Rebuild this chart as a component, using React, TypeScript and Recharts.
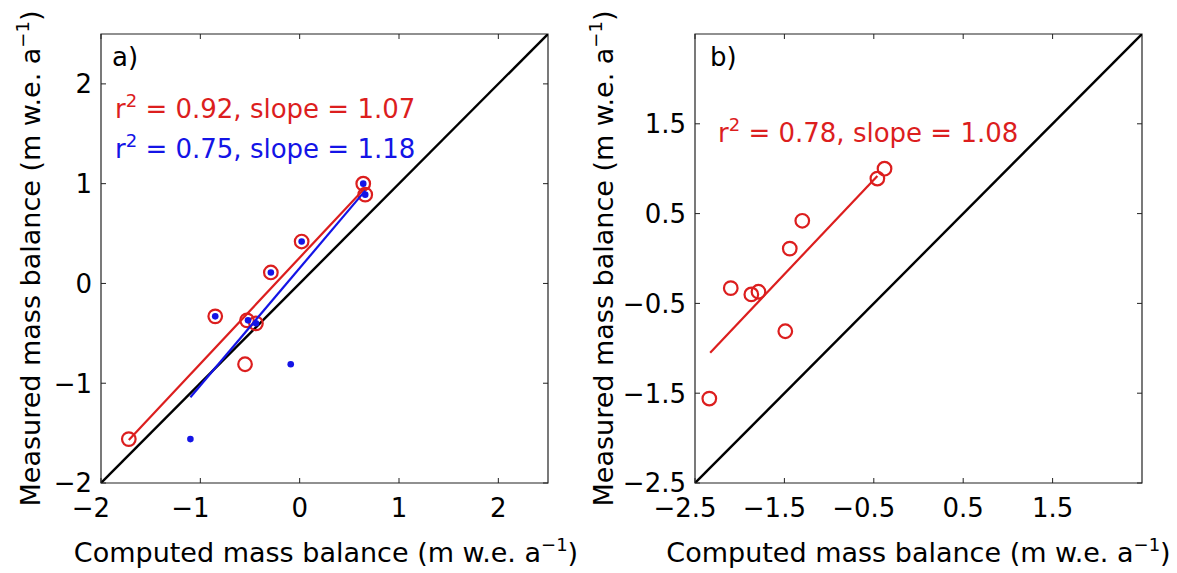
import { ScatterChart, Scatter, XAxis, YAxis, ReferenceArea } from "recharts";

const RED = "#dc1e1e";
const BLUE = "#1414e6";
const FONT = "DejaVu Sans";

// measured mass balance, same glaciers/years in both panels
const measured = [1.0, 0.89, 0.42, 0.11, -0.33, -0.37, -0.4, -0.81, -1.56];

// panel a) computed values, two model runs
const aComputedRed = [0.64, 0.66, 0.02, -0.29, -0.85, -0.53, -0.44, -0.55, -1.72];
const aComputedBlue = [0.64, 0.66, 0.02, -0.29, -0.85, -0.52, -0.44, -0.09, -1.1];
const aFitRedX = [-1.72, 0.66];
const aFitRedY = [-1.57, 0.96];
const aFitBlueX = [-1.1, 0.66];
const aFitBlueY = [-1.14, 0.93];
const aDomain = [-2, 2.5];
const aTicks = [-2, -1, 0, 1, 2];

// panel b) computed values
const bComputed = [-0.38, -0.46, -1.3, -1.44, -2.1, -1.79, -1.87, -1.49, -2.34];
const bFitX = [-2.33, -0.46];
const bFitY = [-1.05, 0.92];
const bDomain = [-2.5, 2.5];
const bTicks = [-2.5, -1.5, -0.5, 0.5, 1.5];

const pts = (xs: number[], ys: number[]) => xs.map((x, i) => ({ x, y: ys[i] }));

const PLOT = 447; // plot box is (almost) square
const PLOT_H = 449;

const fmt = (v: number) => String(v).replace("-", "\u2212");

// bottom ticks: label + inward tick marks on bottom and top of the box
function XTick({ x, y, payload }: any) {
  const v = payload.value;
  return (
    <g>
      <line x1={x} x2={x} y1={y} y2={y - 5} stroke="#222" />
      <line x1={x} x2={x} y1={y - PLOT_H} y2={y - PLOT_H + 5} stroke="#222" />
      <text
        x={x - (v < 0 ? 10 : 0)}
        y={y + 34}
        textAnchor="middle"
        fontSize={26}
        fontFamily={FONT}
        fill="#000"
      >
        {fmt(v)}
      </text>
    </g>
  );
}

// left ticks: label + inward tick marks on left and right of the box
function YTick({ x, y, payload }: any) {
  return (
    <g>
      <line x1={x} x2={x + 5} y1={y} y2={y} stroke="#222" />
      <line x1={x + PLOT} x2={x + PLOT - 5} y1={y} y2={y} stroke="#222" />
      <text x={x - 9} y={y} dy="0.36em" textAnchor="end" fontSize={26} fontFamily={FONT} fill="#000">
        {fmt(payload.value)}
      </text>
    </g>
  );
}

const Circle = (p: any) => <circle cx={p.cx} cy={p.cy} r={6.8} fill="none" stroke={RED} strokeWidth={2.2} />;
const Dot = (p: any) => <circle cx={p.cx} cy={p.cy} r={3.3} fill={BLUE} />;
const NoShape = () => null;

function Panel({ domain, ticks, children, width, left, plotLeft }: any) {
  // axes get 1px of room (a zero-sized axis is not drawn at all)
  return (
    <div style={{ position: "absolute", left, top: 0 }}>
      <ScatterChart
        width={width}
        height={573}
        margin={{ top: 34, left: plotLeft - 1, right: width - plotLeft - PLOT, bottom: 89 }}
      >
        <XAxis
          type="number"
          dataKey="x"
          domain={domain}
          ticks={ticks}
          interval={0}
          allowDataOverflow
          height={1}
          axisLine={false}
          tickLine={false}
          tickSize={0}
          tickMargin={0}
          tick={<XTick />}
        />
        <YAxis
          type="number"
          dataKey="y"
          domain={domain}
          ticks={ticks}
          interval={0}
          allowDataOverflow
          width={1}
          axisLine={false}
          tickLine={false}
          tickSize={0}
          tickMargin={0}
          tick={<YTick />}
        />
        <ReferenceArea
          x1={domain[0]}
          x2={domain[1]}
          y1={domain[0]}
          y2={domain[1]}
          fill="none"
          stroke="#222"
          strokeWidth={1.2}
        />
        {children}
      </ScatterChart>
    </div>
  );
}

function Sup({ base, sup, rest }: { base: string; sup: string; rest: string }) {
  return (
    <>
      {base}
      <tspan dy={-11} fontSize={18}>
        {sup}
      </tspan>
      <tspan dy={11}>{rest}</tspan>
    </>
  );
}

export default function App() {
  return (
    <div style={{ position: "absolute", left: 0, top: 0, width: 1177, height: 573, background: "#fff" }}>
      <Panel domain={aDomain} ticks={aTicks} width={590} left={0} plotLeft={101}>
        <Scatter
          data={pts(aDomain, aDomain)}
          line={{ stroke: "#000", strokeWidth: 2.4 }}
          shape={NoShape}
          isAnimationActive={false}
        />
        <Scatter
          data={pts(aFitRedX, aFitRedY)}
          line={{ stroke: RED, strokeWidth: 2.2 }}
          shape={NoShape}
          isAnimationActive={false}
        />
        <Scatter data={pts(aComputedRed, measured)} shape={Circle} isAnimationActive={false} />
        <Scatter
          data={pts(aFitBlueX, aFitBlueY)}
          line={{ stroke: BLUE, strokeWidth: 2.2 }}
          shape={NoShape}
          isAnimationActive={false}
        />
        <Scatter data={pts(aComputedBlue, measured)} shape={Dot} isAnimationActive={false} />
      </Panel>

      <Panel domain={bDomain} ticks={bTicks} width={587} left={590} plotLeft={105}>
        <Scatter
          data={pts(bDomain, bDomain)}
          line={{ stroke: "#000", strokeWidth: 2.4 }}
          shape={NoShape}
          isAnimationActive={false}
        />
        <Scatter
          data={pts(bFitX, bFitY)}
          line={{ stroke: RED, strokeWidth: 2.2 }}
          shape={NoShape}
          isAnimationActive={false}
        />
        <Scatter data={pts(bComputed, measured)} shape={Circle} isAnimationActive={false} />
      </Panel>

      <svg
        width={1177}
        height={573}
        style={{ position: "absolute", left: 0, top: 0, pointerEvents: "none" }}
        fontFamily={FONT}
      >
        <text x={112} y={66} fontSize={26}>a)</text>
        <text x={115} y={118} fontSize={26} fill={RED}>
          <Sup base="r" sup="2" rest=" = 0.92, slope = 1.07" />
        </text>
        <text x={115} y={158} fontSize={26} fill={BLUE}>
          <Sup base="r" sup="2" rest=" = 0.75, slope = 1.18" />
        </text>
        <text x={326} y={562} fontSize={27} textAnchor="middle">
          <Sup base="Computed mass balance (m w.e. a" sup={"\u22121"} rest=")" />
        </text>
        <text transform="translate(40,258.5) rotate(-90)" fontSize={27} textAnchor="middle">
          <Sup base="Measured mass balance (m w.e. a" sup={"\u22121"} rest=")" />
        </text>

        <text x={710} y={66} fontSize={26}>b)</text>
        <text x={718} y={142} fontSize={26} fill={RED}>
          <Sup base="r" sup="2" rest=" = 0.78, slope = 1.08" />
        </text>
        <text x={918.5} y={562} fontSize={27} textAnchor="middle">
          <Sup base="Computed mass balance (m w.e. a" sup={"\u22121"} rest=")" />
        </text>
        <text transform="translate(613,258.5) rotate(-90)" fontSize={27} textAnchor="middle">
          <Sup base="Measured mass balance (m w.e. a" sup={"\u22121"} rest=")" />
        </text>
      </svg>
    </div>
  );
}
